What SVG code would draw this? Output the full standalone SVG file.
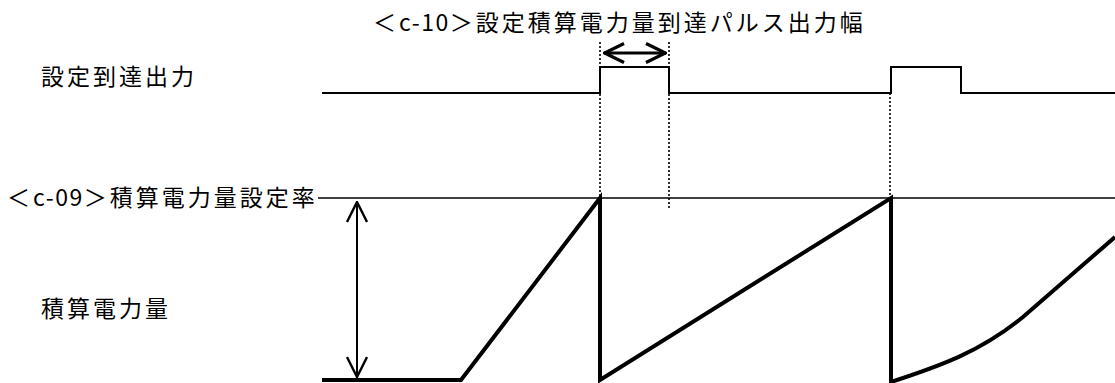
<svg xmlns="http://www.w3.org/2000/svg" width="1115" height="383" viewBox="0 0 1115 383">
<style>
.t{font-family:"Noto Sans CJK JP","Noto Sans CJK SC",sans-serif;font-size:23px;fill:#000}
.w{letter-spacing:3px}
.n{letter-spacing:1.5px}
.sig{fill:none;stroke:#000;stroke-width:2}
.thr{fill:none;stroke:#000;stroke-width:1.6}
.acc{fill:none;stroke:#000;stroke-width:4;stroke-linejoin:miter}
.dot{fill:none;stroke:#000;stroke-width:1.6;stroke-dasharray:2,2}
.arr{fill:none;stroke:#000;stroke-width:2}
.arr2{fill:none;stroke:#000;stroke-width:3}
</style>
<defs>
<marker id="ah" viewBox="0 0 22 22" refX="21" refY="11" markerWidth="22" markerHeight="22" markerUnits="userSpaceOnUse" orient="auto-start-reverse">
<path d="M1,1 L21,11 L1,21" fill="none" stroke="#000" stroke-width="2.4"/>
</marker>
<marker id="ah2" viewBox="0 0 22 22" refX="21" refY="11" markerWidth="22" markerHeight="22" markerUnits="userSpaceOnUse" orient="auto-start-reverse">
<path d="M1,1.5 L20.5,11 L1,20.5" fill="none" stroke="#000" stroke-width="3.2"/>
</marker>
</defs>
<rect width="1115" height="383" fill="#fff"/>
<g id="label-title"><text class="t" x="373" y="31"><tspan class="w">＜</tspan><tspan class="n">c-10</tspan><tspan class="w">＞設定積算電力量到達パルス出力幅</tspan></text></g>
<g id="label-output"><text class="t w" x="41" y="85">設定到達出力</text></g>
<g id="label-rate"><text class="t" x="7" y="206"><tspan class="w">＜</tspan><tspan class="n">c-09</tspan><tspan class="w">＞積算電力量設定率</tspan></text></g>
<g id="label-energy"><text class="t w" x="41" y="317">積算電力量</text></g>
<g id="signal-output"><path class="sig" d="M322,93 L600,93 L600,67 L669,67 L669,93 L891,93 L891,67 L961,67 L961,93 L1115,93"/></g>
<g id="threshold"><path class="thr" d="M318,198 L1115,198"/></g>
<g id="energy-curve"><path class="acc" d="M322,380 L461,380 L600,198 L600,380 L891,198 L891,382 C940,366 980,352 1023,317 L1115,237"/></g>
<g id="connectors">
<path class="dot" d="M600,42 L600,198"/>
<path class="dot" d="M669,42 L669,208"/>
<path class="dot" d="M890,93 L890,253"/>
<path class="arr2" d="M604,53 L666,53" marker-start="url(#ah2)" marker-end="url(#ah2)"/>
<path class="arr" d="M357,202 L357,377" marker-start="url(#ah)" marker-end="url(#ah)"/>
</g>
</svg>
